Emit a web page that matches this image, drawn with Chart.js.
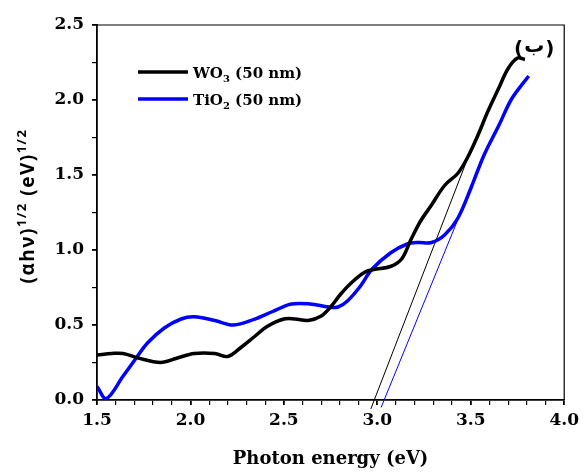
<!DOCTYPE html>
<html>
<head>
<meta charset="utf-8">
<script src="https://cdn.jsdelivr.net/npm/chart.js@4.4.0/dist/chart.umd.min.js"></script>
<style>
  body { margin: 0; background: #fff; }
  #wrap { width: 584px; height: 474px; }
</style>
</head>
<body>
<div id="wrap"><canvas id="tauc"></canvas></div>
<script>
// photon energy (eV) and (αhν)^1/2 values
const wo3E = [1.50, 1.58, 1.64, 1.72, 1.84, 1.93, 2.02, 2.13, 2.20, 2.27, 2.34, 2.41, 2.50, 2.56, 2.63, 2.70, 2.75, 2.80, 2.86, 2.93, 2.98, 3.07, 3.13, 3.18, 3.23, 3.29, 3.36, 3.43, 3.48, 3.54, 3.59, 3.65, 3.70, 3.75, 3.79];
const wo3V = [0.30, 0.31, 0.31, 0.28, 0.25, 0.28, 0.31, 0.31, 0.29, 0.35, 0.42, 0.49, 0.54, 0.54, 0.53, 0.56, 0.62, 0.70, 0.78, 0.85, 0.87, 0.89, 0.94, 1.07, 1.19, 1.30, 1.43, 1.51, 1.61, 1.77, 1.92, 2.08, 2.21, 2.28, 2.27];

const tioE = [1.50, 1.55, 1.64, 1.71, 1.77, 1.86, 1.95, 2.02, 2.13, 2.23, 2.34, 2.44, 2.54, 2.64, 2.74, 2.79, 2.84, 2.91, 2.97, 3.07, 3.16, 3.22, 3.29, 3.36, 3.43, 3.50, 3.57, 3.65, 3.72, 3.81];
const tioV = [0.09, 0.01, 0.16, 0.28, 0.38, 0.48, 0.54, 0.555, 0.53, 0.50, 0.537, 0.59, 0.64, 0.64, 0.62, 0.62, 0.66, 0.76, 0.87, 0.98, 1.04, 1.05, 1.05, 1.10, 1.21, 1.41, 1.63, 1.83, 2.01, 2.16];

// linear extrapolation lines (band gap)
const wo3FitE = [2.965, 3.48];
const wo3FitV = [-0.06, 1.60];
const tioFitE = [3.02, 3.44];
const tioFitV = [-0.05, 1.23];

const xTicks = [1.5, 2.0, 2.5, 3.0, 3.5, 4.0];
const yTicks = [0.0, 0.5, 1.0, 1.5, 2.0, 2.5];

const seriesNames = [['WO', '3', ' (50 nm)'], ['TiO', '2', ' (50 nm)']];
const seriesColors = ['#000000', '#0000ff'];

const toPts = (xs, ys) => xs.map((x, i) => ({ x: x, y: ys[i] }));
const isMajor = (v, step) => Math.abs(v / step - Math.round(v / step)) < 1e-6;

const serif = '"DejaVu Serif", "Liberation Serif", serif';

// legend, panel letter and y title drawn by hand (sub/superscripts)
const extras = {
  id: 'extras',
  afterDraw(chart) {
    const { ctx, chartArea } = chart;
    ctx.save();
    // frame top / right
    ctx.strokeStyle = '#000';
    ctx.lineWidth = 1.2;
    ctx.beginPath();
    ctx.moveTo(chartArea.left, chartArea.top);
    ctx.lineTo(chartArea.right, chartArea.top);
    ctx.lineTo(chartArea.right, chartArea.bottom);
    ctx.stroke();

    // legend
    seriesNames.forEach((parts, i) => {
      const y = 72 + i * 27;
      ctx.strokeStyle = seriesColors[i];
      ctx.lineWidth = 3.5;
      ctx.beginPath();
      ctx.moveTo(138, y);
      ctx.lineTo(188, y);
      ctx.stroke();
      ctx.fillStyle = '#000';
      ctx.textBaseline = 'alphabetic';
      ctx.textAlign = 'left';
      let x = 193;
      ctx.font = 'bold 15px ' + serif;
      ctx.fillText(parts[0], x, y + 6);
      x += ctx.measureText(parts[0]).width;
      ctx.font = 'bold 10px ' + serif;
      ctx.fillText(parts[1], x, y + 10);
      x += ctx.measureText(parts[1]).width;
      ctx.font = 'bold 15px ' + serif;
      ctx.fillText(parts[2], x, y + 6);
    });

    // panel letter, pieces drawn one by one so bidi does not swap the brackets
    ctx.textAlign = 'left';
    ctx.textBaseline = 'alphabetic';
    let px = 514;
    ctx.font = 'bold 20px "DejaVu Sans", sans-serif';
    ctx.fillText('(', px, 55);
    px += ctx.measureText('(').width;
    ctx.fillText('ب', px + 1, 52);
    px += ctx.measureText('ب').width + 2;
    ctx.fillText(')', px, 55);

    // y title
    ctx.translate(25, 206);
    ctx.rotate(-Math.PI / 2);
    ctx.letterSpacing = '1.5px';
    const segs = [
      ['(αhν)', 19, 0], ['1/2', 13, -7], [' (eV)', 19, 0], ['1/2', 13, -7]
    ];
    ctx.textBaseline = 'middle';
    let total = 0;
    segs.forEach(s => { ctx.font = 'bold ' + s[1] + 'px "Open Sans", sans-serif'; total += ctx.measureText(s[0]).width; });
    let tx = -total / 2;
    segs.forEach(s => {
      ctx.font = 'bold ' + s[1] + 'px "Open Sans", sans-serif';
      ctx.fillText(s[0], tx, s[2] + 4);
      tx += ctx.measureText(s[0]).width;
    });
    ctx.restore();
  }
};

new Chart(document.getElementById('tauc'), {
  type: 'scatter',
  data: {
    datasets: [
      { label: 'WO3 (50 nm)', data: toPts(wo3E, wo3V), showLine: true, borderColor: seriesColors[0], borderWidth: 3.5, pointRadius: 0, tension: 0.35 },
      { label: 'TiO2 (50 nm)', data: toPts(tioE, tioV), showLine: true, borderColor: seriesColors[1], borderWidth: 3.5, pointRadius: 0, tension: 0.35 },
      { label: 'fit WO3', data: toPts(wo3FitE, wo3FitV), showLine: true, borderColor: seriesColors[0], borderWidth: 1, pointRadius: 0, clip: 10 },
      { label: 'fit TiO2', data: toPts(tioFitE, tioFitV), showLine: true, borderColor: seriesColors[1], borderWidth: 1, pointRadius: 0, clip: 10 }
    ]
  },
  options: {
    responsive: true,
    maintainAspectRatio: false,
    animation: false,
    layout: { padding: { top: 25, right: 18, left: 0, bottom: 0 } },
    plugins: { legend: { display: false }, tooltip: { enabled: false } },
    scales: {
      x: {
        type: 'linear',
        min: xTicks[0],
        max: xTicks[xTicks.length - 1],
        afterBuildTicks: s => {
          const t = [];
          for (let k = 0; k <= 25; k++) t.push({ value: +(1.5 + k * 0.1).toFixed(2) });
          s.ticks = t;
        },
        afterFit: s => { s.height = 74; },
        border: { color: '#000', width: 1.8 },
        grid: {
          drawOnChartArea: false,
          color: '#000',
          tickLength: 5,
          lineWidth: c => isMajor(c.tick.value, 0.5) ? 1.8 : 1.2
        },
        ticks: {
          autoSkip: false,
          maxRotation: 0,
          padding: 5,
          color: '#000',
          font: { family: serif, size: 17, weight: 'bold' },
          callback: v => isMajor(v, 0.5) ? v.toFixed(1) : ''
        },
        title: {
          display: true,
          text: 'Photon energy (eV)',
          color: '#000',
          padding: { top: 10 },
          font: { family: serif, size: 18, weight: 'bold' }
        }
      },
      y: {
        type: 'linear',
        min: yTicks[0],
        max: yTicks[yTicks.length - 1],
        afterBuildTicks: s => {
          const t = [];
          for (let k = 0; k <= 10; k++) t.push({ value: k * 0.25 });
          s.ticks = t;
        },
        afterFit: s => { s.width = 97; },
        border: { color: '#000', width: 1.8 },
        grid: {
          drawOnChartArea: false,
          color: '#000',
          tickLength: 5,
          lineWidth: c => isMajor(c.tick.value, 0.5) ? 1.8 : 1.2
        },
        ticks: {
          autoSkip: false,
          padding: 8,
          color: '#000',
          font: { family: serif, size: 17, weight: 'bold' },
          callback: v => isMajor(v, 0.5) ? v.toFixed(1) : ''
        }
      }
    }
  },
  plugins: [extras]
});
</script>
</body>
</html>
